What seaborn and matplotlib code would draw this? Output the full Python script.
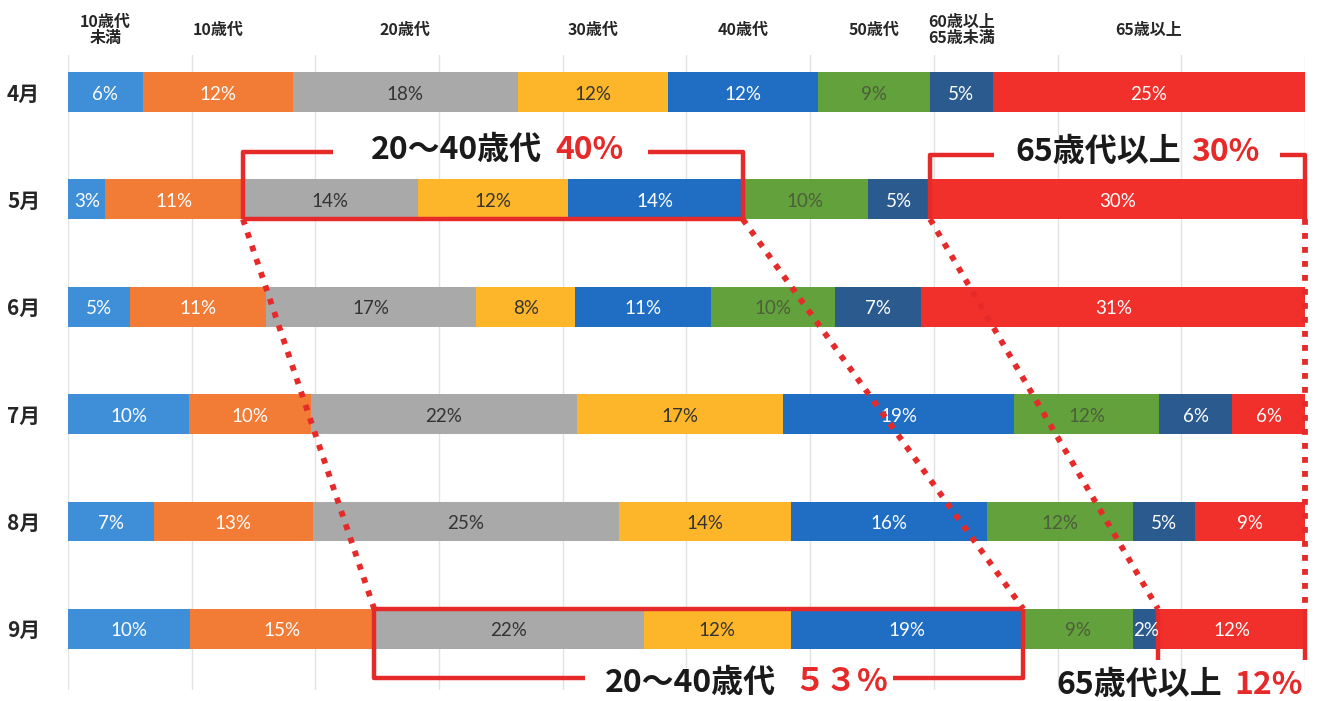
import numpy as np
import pandas as pd
import seaborn as sns
import matplotlib.pyplot as plt

# data (share of cases by age group, %)
months = ['4月', '5月', '6月', '7月', '8月', '9月']
age_groups = ['10歳代\n未満', '10歳代', '20歳代', '30歳代', '40歳代', '50歳代',
              '60歳以上\n65歳未満', '65歳以上']
under10 = [6, 3, 5, 10, 7, 10]
teens = [12, 11, 11, 10, 13, 15]
twenties = [18, 14, 17, 22, 25, 22]
thirties = [12, 12, 8, 17, 14, 12]
forties = [12, 14, 11, 19, 16, 19]
fifties = [9, 10, 10, 12, 12, 9]
sixty_64 = [5, 5, 7, 6, 5, 2]
over65 = [25, 30, 31, 6, 9, 12]

colors = ['#3E8FD8', '#F27B36', '#A9A9A9', '#FDB62A', '#1F6EC4', '#62A13B', '#2B5B8E', '#F2302B']
text_colors = ['white', 'white', '#333333', '#333333', 'white', '#4d5e3c', 'white', 'white']
RED = '#E62A2A'

df = pd.DataFrame({'month': months})
for name, col in zip(age_groups, [under10, teens, twenties, thirties, forties, fifties, sixty_64, over65]):
    df[name] = col

vals = df[age_groups].to_numpy(float)
share = vals / vals.sum(axis=1, keepdims=True) * 100
cum = share.cumsum(axis=1)
left = cum - share

sns.set_theme(style='whitegrid')
plt.rcParams['font.family'] = ['Lato', 'Noto Sans CJK JP', 'DejaVu Sans']
CJK = ['Noto Sans CJK JP', 'DejaVu Sans']

fig = plt.figure(figsize=(13.18, 7.01), dpi=100)
ax = fig.add_axes([0.0516, 0.0157, 0.9385, 0.906])

# stacked bars: draw cumulative totals from the widest down
for i in range(len(age_groups) - 1, -1, -1):
    tmp = pd.DataFrame({'month': months, 'x': cum[:, i]})
    sns.barplot(data=tmp, x='x', y='month', color=colors[i], saturation=1,
                width=0.37, errorbar=None, linewidth=0, orient='h', ax=ax)

# segment labels
for r in range(len(months)):
    for i in range(len(age_groups)):
        ax.text(left[r, i] + share[r, i] / 2, r + 0.02, f'{int(vals[r, i])}%',
                ha='center', va='center', fontsize=13.5, color=text_colors[i])

# column headers over the April segments
for i, name in enumerate(age_groups):
    ax.text(left[0, i] + share[0, i] / 2, -0.58, name, ha='center', va='center',
            fontsize=11.5, fontweight='bold', family=CJK, linespacing=1.0)

ax.set_xlim(0, 100)
ax.set_ylim(5.57, -0.345)
ax.set_xticks(np.arange(0, 101, 10))
ax.set_xticklabels([])
ax.xaxis.grid(True, color='#e2e2e2', lw=1)
ax.yaxis.grid(False)
ax.set_axisbelow(True)
for s in ax.spines.values():
    s.set_visible(False)
ax.set_xlabel('')
ax.set_ylabel('')
ax.tick_params(axis='y', length=0, pad=20)
for lab in ax.get_yticklabels():
    lab.set_fontweight('bold')
    lab.set_fontsize(15)
    lab.set_family(CJK)

half = 0.185


def red_line(xs, ys, **kw):
    ax.plot(xs, ys, color=RED, lw=3.2, solid_capstyle='butt', clip_on=False, **kw)


# 5月 bracket: 20~40
x0, x1 = left[1, 2], cum[1, 4]
ytop, ybot = 0.557, 1 + half
red_line([x0, x0, 21.4], [ybot, ytop, ytop])
red_line([46.9, x1, x1], [ytop, ytop, ybot])
red_line([x0, x1], [ybot, ybot])
ax.text(38.3, 0.54, '20～40歳代', ha='right', va='center', fontsize=23, fontweight='bold', family=CJK, color='#1a1a1a')
ax.text(39.4, 0.54, '40%', ha='left', va='center', fontsize=23, fontweight='bold', family=CJK, color=RED)

# 5月 bracket: 65+
x0 = left[1, 7]
ytop = 0.585
red_line([x0, x0, 74.9], [ybot, ytop, ytop])
red_line([98.0, 100, 100], [ytop, ytop, ybot])
ax.text(90.0, 0.56, '65歳代以上', ha='right', va='center', fontsize=23, fontweight='bold', family=CJK, color='#1a1a1a')
ax.text(90.8, 0.56, '30%', ha='left', va='center', fontsize=23, fontweight='bold', family=CJK, color=RED)

# 9月 bracket: 20~40
x0, x1 = left[5, 2], cum[5, 4]
ytop, ybot = 5 - half, 5.456
red_line([x0, x1], [ytop, ytop])
red_line([41.8, x0, x0], [ybot, ybot, ytop])
red_line([66.7, x1, x1], [ybot, ybot, ytop])
ax.text(57.2, 5.5, '20～40歳代', ha='right', va='center', fontsize=23, fontweight='bold', family=CJK, color='#1a1a1a')
ax.text(58.6, 5.5, '５３%', ha='left', va='center', fontsize=23, fontweight='bold', family=CJK, color=RED)

# 9月: 65+
red_line([left[5, 7], left[5, 7]], [ytop, 5.29])
red_line([100, 100], [ytop, 5.29])
ax.text(93.3, 5.52, '65歳代以上', ha='right', va='center', fontsize=23, fontweight='bold', family=CJK, color='#1a1a1a')
ax.text(94.3, 5.52, '12%', ha='left', va='center', fontsize=23, fontweight='bold', family=CJK, color=RED)

# dotted connectors from May to September
dot = dict(color=RED, lw=4.2, linestyle=(0, (1, 1.4)), clip_on=False, zorder=5)
ax.plot([left[1, 2], left[5, 2]], [1 + half, 5 - half], **dot)
ax.plot([cum[1, 4], cum[5, 4]], [1 + half, 5 - half], **dot)
ax.plot([left[1, 7], left[5, 7]], [1 + half, 5 - half], **dot)
ax.plot([100, 100], [1 + half, 5 - half], **dot)

fig.savefig('out.png', dpi=100)
